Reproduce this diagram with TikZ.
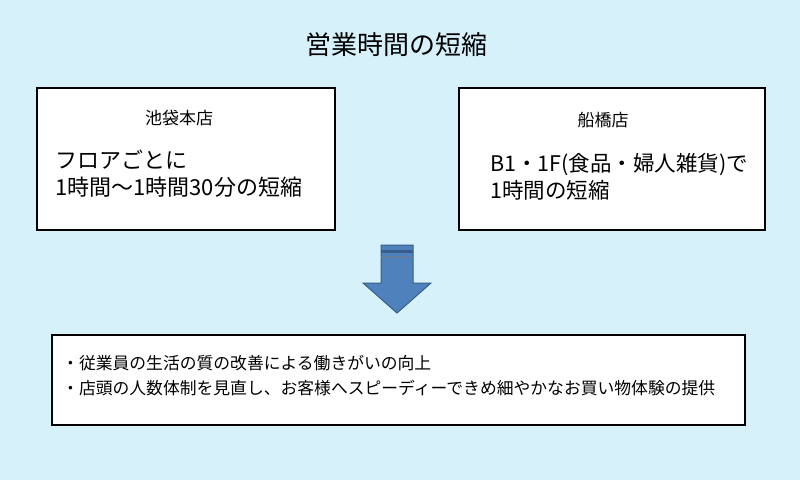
\documentclass[tikz,border=0pt]{standalone}
\usepackage{fontspec}
\setmainfont{Noto Sans CJK JP}
\definecolor{bgblue}{HTML}{D7F1FB}
\definecolor{arrowblue}{HTML}{4F81BD}
\definecolor{arrowdark}{HTML}{385D8A}
\tikzset{
  panel/.style={draw=black, line width=2pt, fill=white},
  label/.style={inner sep=0pt, anchor=west}
}
\begin{document}
\begin{tikzpicture}[x=1pt,y=-1pt]
        % background
        \fill[bgblue] (0,0) rectangle (800,480);
        \useasboundingbox (0,0) rectangle (800,480);

        % title
        \node (title) at (396,45) {\fontsize{26}{30}\selectfont 営業時間の短縮};

        % store boxes
        \draw[panel] (37,88) rectangle (335,230);
        \draw[panel] (459,88) rectangle (765,230);
        \node (ikebukuro) at (179,118) {\fontsize{17}{20}\selectfont 池袋本店};
        \node[label] (ikeA) at (55,160) {\fontsize{22}{26}\selectfont フロアごとに};
        \node[label] (ikeB) at (55,187) {\fontsize{22}{26}\selectfont 1時間～1時間30分の短縮};
        \node (funabashi) at (603,120) {\fontsize{17}{20}\selectfont 船橋店};
        \node[label] (funaA) at (490,165) {\fontsize{21.5}{25}\selectfont B1・1F(食品・婦人雑貨)で};
        \node[label] (funaB) at (490,190) {\fontsize{21.5}{25}\selectfont 1時間の短縮};

        % arrow
        \draw[arrowdark, fill=arrowblue, line width=1pt]
          (381,245) -- (413,245) -- (413,283) -- (431,283) -- (397,313)
          -- (363,283) -- (381,283) -- cycle;
        \fill[arrowdark] (381,250) rectangle (413,253);
        \fill[arrowdark!80] (381,256) rectangle (413,258);

        % effects box
        \draw[panel] (52,335) rectangle (745,425);
        \node[label] (effA) at (62,363) {\fontsize{16.8}{20}\selectfont ・従業員の生活の質の改善による働きがいの向上};
        \node[label] (effB) at (62,388) {\fontsize{16.8}{20}\selectfont ・店頭の人数体制を見直し、お客様へスピーディーできめ細やかなお買い物体験の提供};
\end{tikzpicture}
\end{document}
